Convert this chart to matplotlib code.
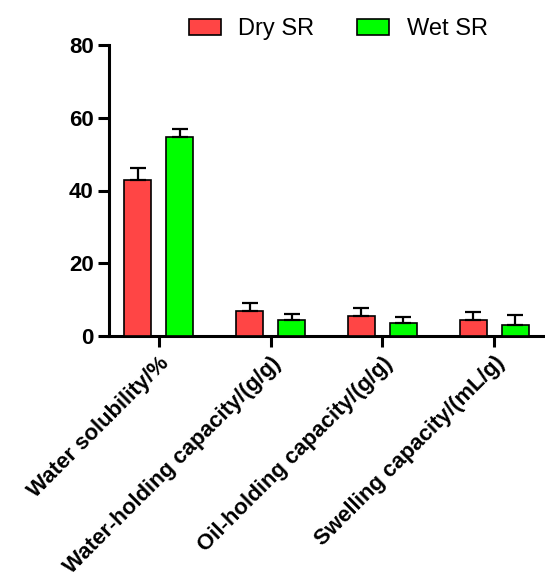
import numpy as np
import matplotlib.pyplot as plt

plt.rcParams['font.family'] = ['Liberation Sans', 'DejaVu Sans']

categories = ["Water solubility/%", "Water-holding capacity/(g/g)",
              "Oil-holding capacity/(g/g)", "Swelling capacity/(mL/g)"]
dry_mean = [42.8, 6.9, 5.5, 4.3]
dry_err = [3.4, 2.3, 2.3, 2.2]
wet_mean = [54.8, 4.5, 3.6, 3.1]
wet_err = [2.2, 1.5, 1.6, 2.7]

fig = plt.figure(figsize=(5.45, 5.79), dpi=100)
ax = fig.add_axes([109/545, 1 - 336/579, (543 - 109)/545, (336 - 45)/579])

x = np.arange(len(categories))
w = 0.245
off = 0.1875
ekw = dict(elinewidth=1.6, capthick=1.6, capsize=5.5, ecolor='black')
ax.bar(x - off, dry_mean, w, color='#FF4545', edgecolor='black', linewidth=1.2,
       yerr=[np.zeros(4), dry_err], error_kw=ekw, label='Dry SR', zorder=3)
ax.bar(x + off, wet_mean, w, color='#00FF00', edgecolor='black', linewidth=1.2,
       yerr=[np.zeros(4), wet_err], error_kw=ekw, label='Wet SR', zorder=3)

ax.set_xlim(-0.444, 3.435)
ax.set_ylim(0, 80)
ax.set_yticks([0, 20, 40, 60, 80])
ax.set_xticks(x)
ax.set_xticklabels(categories, rotation=45, ha='right', rotation_mode='anchor',
                   fontsize=16, fontweight='bold')
for lab in ax.get_yticklabels():
    lab.set_fontsize(16)
    lab.set_fontweight('bold')

for s in ['top', 'right']:
    ax.spines[s].set_visible(False)
for s in ['left', 'bottom']:
    ax.spines[s].set_linewidth(2.2)
ax.tick_params(axis='both', width=2.2, length=8, direction='out')
ax.tick_params(axis='y', pad=3)
ax.tick_params(axis='x', pad=4)

ax.legend(loc='upper center', bbox_to_anchor=(0.528, 1.125), ncol=2, frameon=False,
          fontsize=17, handlelength=1.35, handleheight=0.65, handletextpad=0.75,
          columnspacing=1.8, borderaxespad=0)

fig.savefig('out.png', dpi=100)
